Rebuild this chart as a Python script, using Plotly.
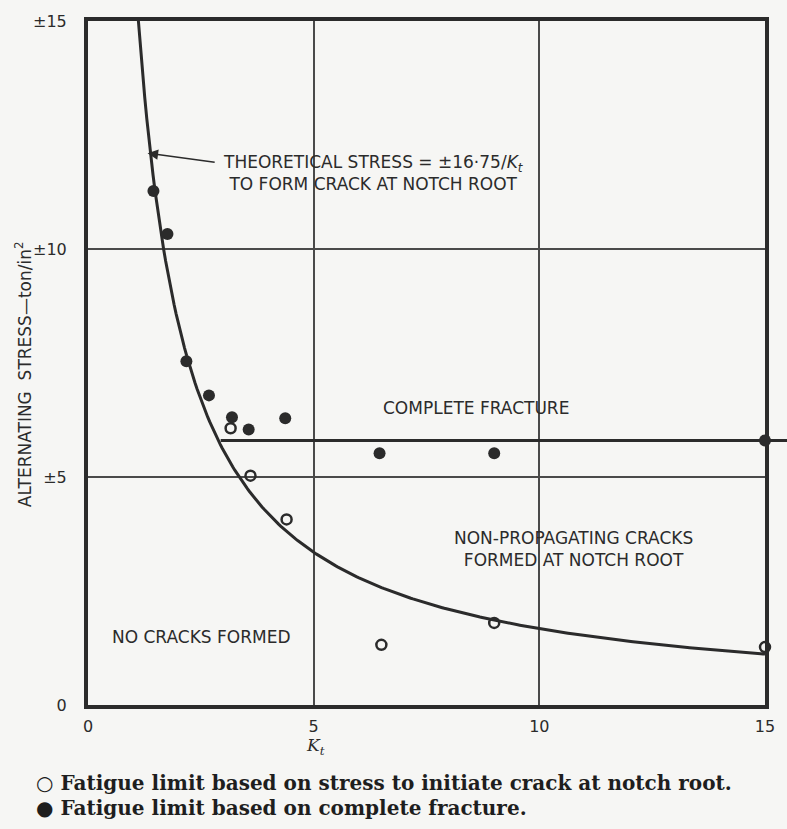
import numpy as np
import plotly.graph_objects as go

# Fatigue tests on notched specimens: alternating stress (ton/in^2) vs Kt
kt_fracture = [1.45, 1.76, 2.18, 2.68, 3.19, 3.56, 4.37, 6.46, 9.0, 15.0]
s_fracture = [11.27, 10.33, 7.54, 6.79, 6.31, 6.04, 6.29, 5.52, 5.52, 5.80]

kt_crack = [3.16, 3.60, 4.40, 6.50, 9.0, 15.0]
s_crack = [6.07, 5.03, 4.07, 1.32, 1.80, 1.27]

# theoretical stress to form a crack at the notch root: 16.75 / Kt
theory_const = 16.75
kt_curve = np.linspace(theory_const / 15.0, 15.0, 300)
s_curve = theory_const / kt_curve

fracture_limit = 5.8        # plain complete-fracture fatigue limit
fracture_start_kt = 2.94

x_ticks = [0, 5, 10, 15]
x_ticktext = ["0", "5", "10", "15"]
y_ticks = [0, 5, 10, 15]
y_ticktext = ["0", "±5", "±10", "±15"]

INK = "#2b2b2b"
PAPER = "#f6f6f4"
SANS = "'DejaVu Sans', sans-serif"
SERIF = "'DejaVu Serif', serif"

fig = go.Figure()

fig.add_trace(go.Scatter(
    x=kt_curve, y=s_curve, mode="lines",
    line=dict(color=INK, width=3), hoverinfo="skip", showlegend=False,
))
fig.add_trace(go.Scatter(
    x=kt_fracture, y=s_fracture, mode="markers",
    marker=dict(symbol="circle", size=12, color=INK, line=dict(width=0)),
    cliponaxis=False, showlegend=False,
))
fig.add_trace(go.Scatter(
    x=kt_crack, y=s_crack, mode="markers",
    marker=dict(symbol="circle-open", size=10, color=INK, line=dict(width=2.5)),
    cliponaxis=False, showlegend=False,
))

# complete-fracture limit line, running beyond the frame on the right
fig.add_shape(type="line", xref="paper", yref="y",
              x0=fracture_start_kt / 15.0, x1=1.04,
              y0=fracture_limit, y1=fracture_limit,
              line=dict(color=INK, width=3))

text_font = dict(family=SANS, size=17, color=INK)

fig.add_annotation(x=1.32, y=12.1, ax=2.84, ay=11.9, axref="x", ayref="y",
                   xref="x", yref="y", text="", showarrow=True,
                   arrowhead=2, arrowsize=1.4, arrowwidth=1.5, arrowcolor=INK)
fig.add_annotation(x=2.95, y=11.67, xref="x", yref="y", xanchor="left",
                   text="THEORETICAL STRESS = ±16·75/<i>K<sub>t</sub></i><br>"
                        "TO FORM CRACK AT NOTCH ROOT",
                   showarrow=False, font=text_font, align="center")
fig.add_annotation(x=8.6, y=6.51, xref="x", yref="y",
                   text="COMPLETE FRACTURE", showarrow=False, font=text_font)
fig.add_annotation(x=10.75, y=3.42, xref="x", yref="y",
                   text="NON-PROPAGATING CRACKS<br>FORMED AT NOTCH ROOT",
                   showarrow=False, font=text_font)
fig.add_annotation(x=2.52, y=1.49, xref="x", yref="y",
                   text="NO CRACKS FORMED", showarrow=False, font=text_font)

fig.add_annotation(x=-0.114, y=7.25, xref="paper", yref="y", textangle=-90,
                   text="ALTERNATING  STRESS—ton/in<sup>2</sup>",
                   showarrow=False, font=dict(family=SANS, size=17, color=INK))
fig.add_annotation(x=0.336, y=-0.06, xref="paper", yref="paper",
                   yanchor="middle",
                   text="<i>K<sub>t</sub></i>", showarrow=False,
                   font=dict(family=SERIF, size=17, color=INK))

legend_font = dict(family=SERIF, size=20, color="#1e1e1e")
fig.add_annotation(x=-0.08, y=-0.135, xref="paper", yref="paper", xanchor="left",
                   text="<b>○ Fatigue limit based on stress to initiate crack at notch root.</b>",
                   showarrow=False, font=legend_font)
fig.add_annotation(x=-0.08, y=-0.171, xref="paper", yref="paper", xanchor="left",
                   text="<b>● Fatigue limit based on complete fracture.</b>",
                   showarrow=False, font=legend_font)

axis_common = dict(
    range=[0, 15], showgrid=True, gridcolor="#4a4a4a", gridwidth=1.5,
    zeroline=False, showline=True, linecolor=INK, linewidth=4, mirror=True,
    ticks="", tickfont=dict(family=SANS, size=16, color=INK),
)
fig.update_xaxes(tickvals=x_ticks, ticktext=x_ticktext, ticklabelstandoff=4,
                 **axis_common)
fig.update_yaxes(tickvals=y_ticks, ticktext=y_ticktext, ticklabelstandoff=14,
                 **axis_common)

fig.update_layout(
    width=787, height=829,
    margin=dict(l=88, r=17, t=21, b=124),
    paper_bgcolor=PAPER, plot_bgcolor=PAPER,
    showlegend=False,
)

fig.write_html("out.html")
